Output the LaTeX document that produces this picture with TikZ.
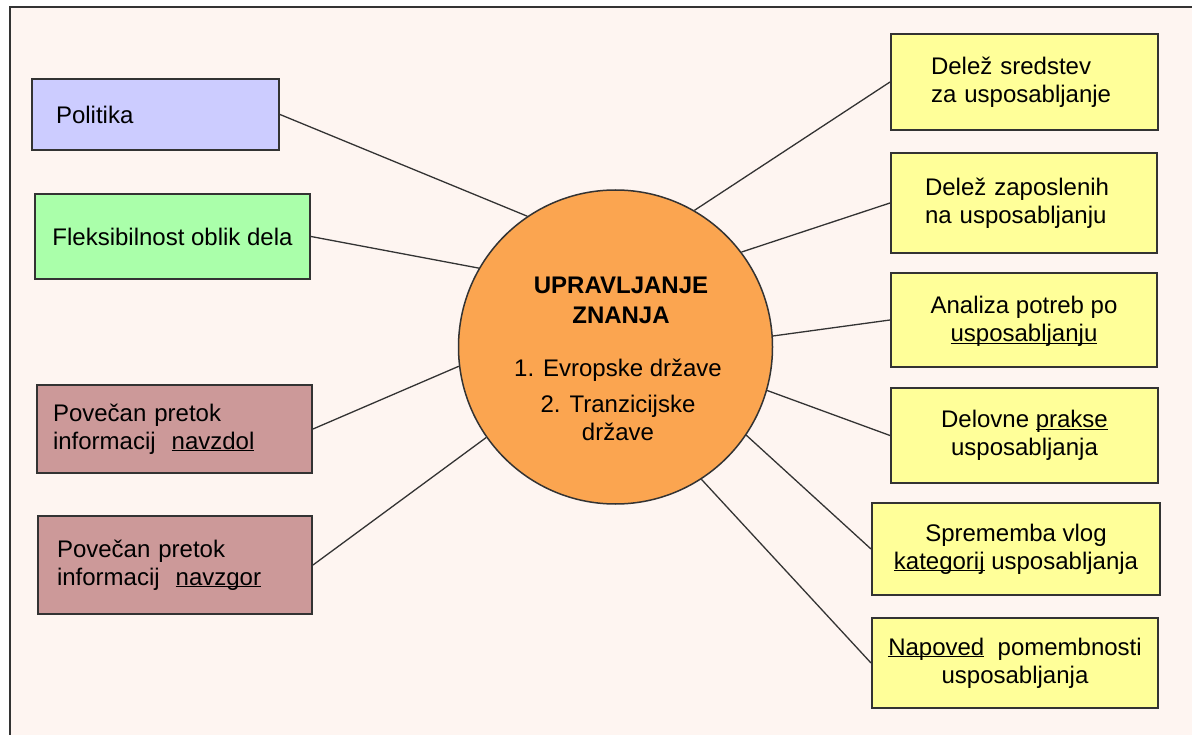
\documentclass[tikz,border=0pt]{standalone}
\usepackage{fontspec}
\setmainfont{Liberation Sans}
\usepackage{tikz}
\usetikzlibrary{positioning}

\definecolor{bgpink}{HTML}{FEF5F1}
\definecolor{polcol}{HTML}{CCCCFF}
\definecolor{flexcol}{HTML}{AAFFAA}
\definecolor{infocol}{HTML}{CC9999}
\definecolor{measurecol}{HTML}{FFFF99}
\definecolor{hubcol}{HTML}{FBA550}
\definecolor{linegray}{HTML}{333333}

\newcommand{\uln}[1]{\underline{\smash{#1}}}

\begin{document}
\begin{tikzpicture}[x=1pt,y=-1pt,
    every node/.style={font=\fontsize{24}{28}\selectfont},
    box/.style={draw=linegray,line width=2pt,inner sep=0pt},
    every edge/.style={draw=linegray,line width=1.3pt},
    hub/.style={circle,draw=linegray,line width=1.5pt,fill=hubcol,minimum size=314pt}]
    \useasboundingbox (0,0) rectangle (1192,735);
    \fill[white] (0,0) rectangle (1192,735);
    \fill[bgpink] (10,7) rectangle (1192,735);
    \draw[linegray,line width=2.5pt] (10,735) -- (10,7) -- (1192,7);

    \node[hub] (hub) at (615.5,347) {};
    \node[font=\bfseries\fontsize{24}{30}\selectfont,align=center,anchor=north,inner sep=0pt]
        (title) at (621,277) {UPRAVLJANJE\\ZNANJA};
    \node[align=center,anchor=north,inner sep=0pt]
        (states) at (618,359) {1. Evropske države\\[8pt]2. Tranzicijske\\države};

    % left column
    \node[box,fill=polcol,minimum height=71pt,text width=199pt,inner xsep=24pt,align=left]
        (politika) at (155.5,114.5) {Politika};
    \node[box,fill=flexcol,minimum height=85pt,minimum width=275pt,align=center]
        (fleks) at (172.5,236.5) {Fleksibilnost oblik dela};
    \node[box,fill=infocol,minimum height=88pt,text width=243pt,inner xsep=16pt,align=left]
        (navzdol) at (174.5,429) {Povečan pretok\\informacij\ \ \uln{navzdol}};
    \node[box,fill=infocol,minimum height=98pt,text width=236pt,inner xsep=19pt,align=left]
        (navzgor) at (175,565) {Povečan pretok\\informacij\ \ \uln{navzgor}};

    % right column
    \node[box,fill=measurecol,minimum height=96pt,text width=187pt,inner xsep=40pt,align=left]
        (sredstev) at (1024.5,82) {Delež sredstev\\za usposabljanje};
    \node[box,fill=measurecol,minimum height=100pt,text width=198pt,inner xsep=34pt,align=left]
        (zaposlenih) at (1024,203) {Delež zaposlenih\\na usposabljanju};
    \node[box,fill=measurecol,minimum height=94pt,minimum width=266pt,align=center]
        (analiza) at (1024,320) {Analiza potreb po\\\uln{usposabljanju}};
    \node[box,fill=measurecol,minimum height=95pt,minimum width=267pt,align=center]
        (delovne) at (1024.5,435.5) {Delovne \uln{prakse}\\usposabljanja};
    \node[box,fill=measurecol,minimum height=92pt,minimum width=288pt,align=center]
        (sprememba) at (1016,549) {Sprememba vlog\\\uln{kategorij} usposabljanja};
    \node[box,fill=measurecol,minimum height=90pt,minimum width=286pt,align=center]
        (napoved) at (1015,663) {\uln{Napoved}\ \ pomembnosti\\usposabljanja};

    \path (politika.east)   edge (hub.124)
          (fleks.east)      edge (hub.150)
          (navzdol.east)    edge (hub.187)
          (navzgor.east)    edge (hub.215)
          (sredstev.west)   edge (hub.60)
          (zaposlenih.west) edge (hub.37)
          (analiza.west)    edge (hub.4)
          (delovne.west)    edge (hub.-16)
          (sprememba.west)  edge (hub.-34)
          (napoved.west)    edge (hub.-57);

\end{tikzpicture}
\end{document}
